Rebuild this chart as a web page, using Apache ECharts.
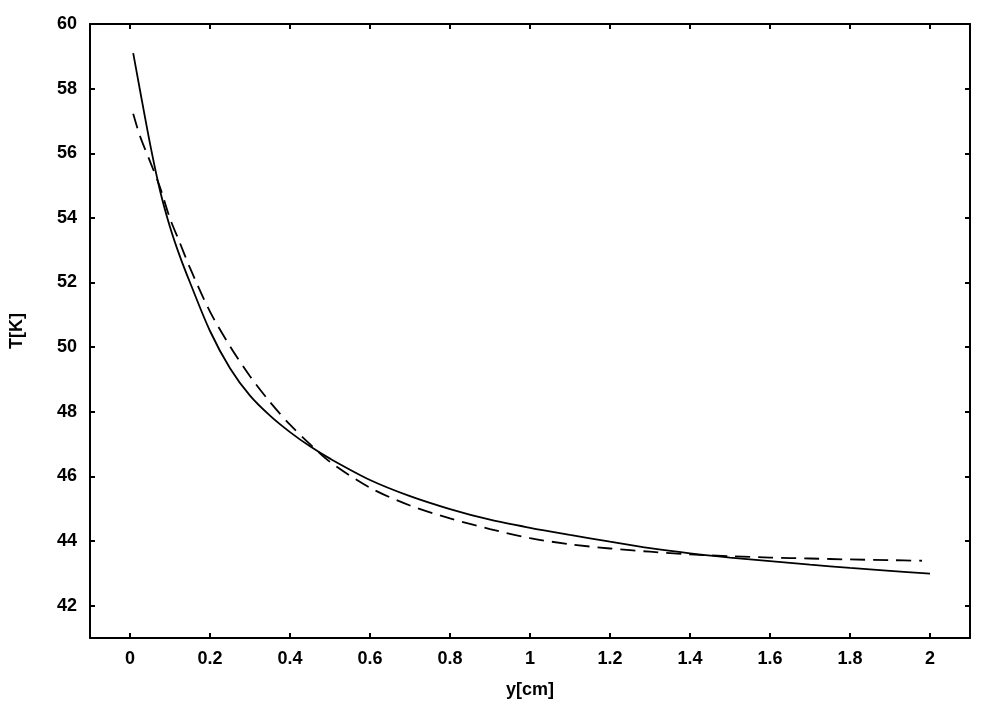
<!DOCTYPE html>
<html>
<head>
<meta charset="utf-8">
<script src="https://cdn.jsdelivr.net/npm/echarts@6/dist/echarts.min.js"></script>
<style>
html,body{margin:0;padding:0;background:#fff;}
#c{width:1008px;height:705px;}
</style>
</head>
<body>
<div id="c"></div>
<script>
// Data
var solidX = [0.008, 0.025, 0.05, 0.075, 0.1, 0.125, 0.15, 0.2, 0.25, 0.3, 0.35, 0.4, 0.45, 0.5, 0.6, 0.7, 0.8, 0.9, 1.0, 1.1, 1.2, 1.3, 1.4, 1.5, 1.6, 1.7, 1.8, 1.9, 2.0];
var solidT = [59.1, 57.95, 56.3, 54.85, 53.72, 52.8, 52.0, 50.5, 49.35, 48.5, 47.88, 47.37, 46.93, 46.55, 45.89, 45.39, 44.99, 44.66, 44.41, 44.19, 43.98, 43.78, 43.62, 43.49, 43.38, 43.27, 43.17, 43.08, 42.99];
var dashX = [0.008, 0.025, 0.05, 0.075, 0.1, 0.125, 0.15, 0.2, 0.25, 0.3, 0.35, 0.4, 0.45, 0.5, 0.6, 0.7, 0.8, 0.9, 1.0, 1.1, 1.2, 1.3, 1.4, 1.5, 1.6, 1.7, 1.8, 1.9, 1.98];
var dashT = [57.22, 56.53, 55.75, 54.95, 53.98, 53.22, 52.45, 51.1, 50.03, 49.1, 48.3, 47.6, 47.0, 46.45, 45.65, 45.1, 44.7, 44.37, 44.09, 43.9, 43.77, 43.67, 43.59, 43.53, 43.49, 43.46, 43.43, 43.41, 43.39];
var xTicks = [0, 0.2, 0.4, 0.6, 0.8, 1.0, 1.2, 1.4, 1.6, 1.8, 2.0];
var yTicks = [42, 44, 46, 48, 50, 52, 54, 56, 58, 60];
var xTitle = 'y[cm]';
var yTitle = 'T[K]';

function pairs(xs, ys) { return xs.map(function (x, i) { return [x, ys[i]]; }); }

var font = 'Liberation Sans, Arial, sans-serif';
var lineAxis = { show: true, onZero: false, lineStyle: { color: '#000', width: 2 } };
var tickStyle = { show: true, inside: true, length: 5, lineStyle: { color: '#000', width: 2 } };
var labelStyle = { color: '#000', fontSize: 18, fontWeight: 'bold', fontFamily: font };

var chart = echarts.init(document.getElementById('c'), null, { renderer: 'canvas' });
chart.setOption({
  backgroundColor: '#fff',
  animation: false,
  grid: { left: 90, right: 38, top: 24, bottom: 67, containLabel: false },
  xAxis: [
    {
      type: 'value', min: -0.1, max: 2.1, position: 'bottom',
      name: xTitle, nameLocation: 'middle', nameGap: 43,
      nameTextStyle: labelStyle,
      axisLine: lineAxis,
      axisTick: Object.assign({ customValues: xTicks }, tickStyle),
      axisLabel: Object.assign({ customValues: xTicks, margin: 12,
        formatter: function (v) { return String(+v.toFixed(1)); } }, labelStyle),
      splitLine: { show: false }
    },
    {
      type: 'value', min: -0.1, max: 2.1, position: 'top',
      axisLine: lineAxis,
      axisTick: Object.assign({ customValues: xTicks }, tickStyle),
      axisLabel: { show: false },
      splitLine: { show: false }
    }
  ],
  yAxis: [
    {
      type: 'value', min: 41, max: 60, position: 'left',
      name: yTitle, nameLocation: 'middle', nameGap: 64, nameRotate: 90,
      nameTextStyle: labelStyle,
      axisLine: lineAxis,
      axisTick: Object.assign({ customValues: yTicks }, tickStyle),
      axisLabel: Object.assign({ customValues: yTicks, margin: 13 }, labelStyle),
      splitLine: { show: false }
    },
    {
      type: 'value', min: 41, max: 60, position: 'right',
      axisLine: lineAxis,
      axisTick: Object.assign({ customValues: yTicks }, tickStyle),
      axisLabel: { show: false },
      splitLine: { show: false }
    }
  ],
  series: [
    {
      type: 'line', xAxisIndex: 0, yAxisIndex: 0,
      data: pairs(solidX, solidT), showSymbol: false, smooth: 0.3,
      lineStyle: { color: '#000', width: 1.8, type: 'solid' }
    },
    {
      type: 'line', xAxisIndex: 0, yAxisIndex: 0,
      data: pairs(dashX, dashT), showSymbol: false, smooth: 0.3,
      lineStyle: { color: '#000', width: 1.8, type: [15, 8] }
    }
  ]
});
</script>
</body>
</html>
